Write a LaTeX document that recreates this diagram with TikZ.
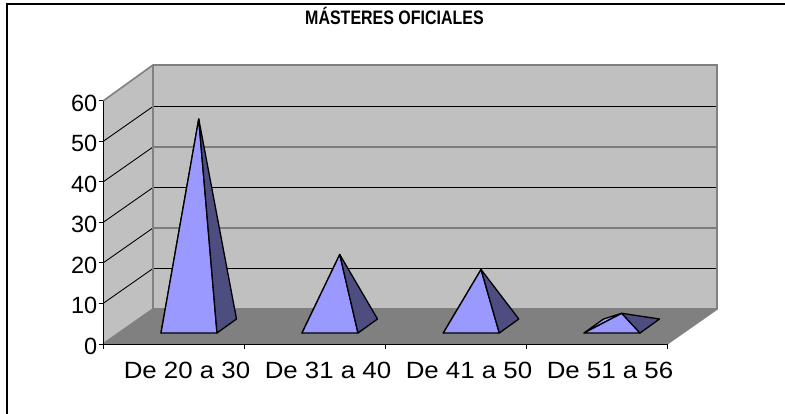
\documentclass[tikz,border=0pt]{standalone}
\usepackage{fontspec}
\setmainfont{Liberation Sans}
\definecolor{wallgray}{RGB}{192,192,192}
\definecolor{floorgray}{RGB}{128,128,128}
\definecolor{edgegray}{RGB}{128,128,128}
\definecolor{pyrlight}{RGB}{153,153,255}
\definecolor{pyrdark}{RGB}{77,77,128}
\tikzset{
  gridline/.style={draw=black, line width=0.9pt},
  walledge/.style={draw=edgegray, line width=1.6pt},
  axisline/.style={draw=black, line width=1pt},
  pyrface/.style={draw=black, line width=1.3pt, line join=round},
  ylab/.style={anchor=east, inner sep=0pt, font=\fontsize{23.5}{24}\selectfont},
  xlab/.style={anchor=base, inner sep=0pt, font=\fontsize{23.5}{24}\selectfont},
  titlelab/.style={anchor=base, inner sep=0pt, font=\fontsize{19.5}{20}\selectfont\bfseries}
}
\begin{document}
\begin{tikzpicture}[x=1pt,y=-1pt]
\useasboundingbox (0,0) rectangle (785,414);
\fill[white] (0,0) rectangle (785,414);
% outer frame
\draw[line width=2pt] (7,414) -- (7,4) -- (785,4);
% walls and floor
\fill[wallgray] (153,65) rectangle (717,309);
\fill[wallgray] (103,101) -- (153,65) -- (153,309) -- (103,344) -- cycle;
\fill[floorgray] (103,344) -- (153,309) -- (717,309) -- (667,344) -- cycle;
% gridlines
\foreach \k in {1,...,5} {
  \draw[gridline] (103,344-40.5*\k) -- (153,309-40.5*\k) -- (717,309-40.5*\k);
}
% wall edges
\draw[walledge] (103,101) -- (153,65) -- (717,65) -- (717,309) -- (667,344);
\draw[walledge] (153,65) -- (153,309) -- (717,309);
\draw[walledge] (103,344) -- (153,309);
% axes
\draw[axisline] (103,101) -- (103,344) -- (667,344);
\foreach \k in {0,...,6} {
  \draw[axisline] (98.5,344-40.5*\k) -- (103,344-40.5*\k);
}
\foreach \k in {0,...,4} {
  \draw[axisline] (103+141*\k,344) -- (103+141*\k,349);
}
% pyramids
\foreach \a/\h in {161/119, 302/254.5, 443.3/269.5, 584/313.3} {
  \draw[pyrface, fill=pyrlight] (\a,333) -- (\a+19.5,319) -- (\a+37.75,\h) -- cycle;
  \draw[pyrface, fill=pyrlight] (\a,333) -- (\a+56,333) -- (\a+37.75,\h) -- cycle;
  \draw[pyrface, fill=pyrdark] (\a+56,333) -- (\a+75.5,319) -- (\a+37.75,\h) -- cycle;
}
% y labels
\node[ylab] (y0) at (97.5,346) {0};
\node[ylab] (y10) at (97.5,305.5) {10};
\node[ylab] (y20) at (97.5,265) {20};
\node[ylab] (y30) at (97.5,224.5) {30};
\node[ylab] (y40) at (97.5,184) {40};
\node[ylab] (y50) at (97.5,143.5) {50};
\node[ylab] (y60) at (97.5,103) {60};
% x labels
\node[xlab] (c1) at (187,378.5) {\scalebox{1.1}[1]{De 20 a 30}};
\node[xlab] (c2) at (328,378.5) {\scalebox{1.1}[1]{De 31 a 40}};
\node[xlab] (c3) at (469,378.5) {\scalebox{1.1}[1]{De 41 a 50}};
\node[xlab] (c4) at (610,378.5) {\scalebox{1.1}[1]{De 51 a 56}};
% title
\node[titlelab] (title) at (394.5,25) {\scalebox{0.82}[1]{MÁSTERES OFICIALES}};
\end{tikzpicture}
\end{document}
